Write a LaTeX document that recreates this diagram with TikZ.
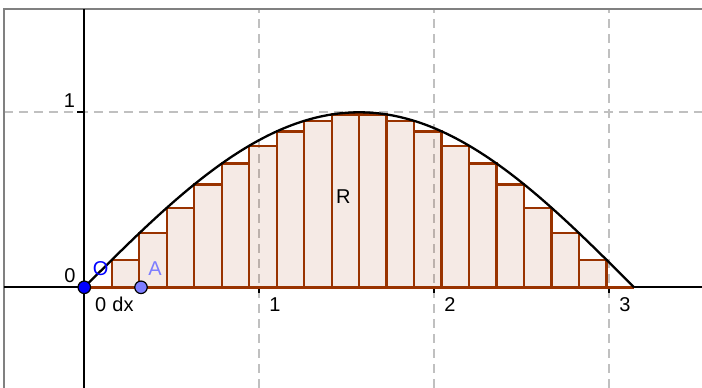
\documentclass[tikz,border=0pt]{standalone}
\usepackage{fontspec}
\setmainfont{Liberation Sans}
\usepackage{tikz}
\usetikzlibrary{positioning}
\definecolor{barbrown}{RGB}{153,51,0}
\definecolor{gridgray}{RGB}{192,192,192}
\definecolor{pointA}{RGB}{125,125,255}
\tikzset{
  lbl/.style={font=\fontsize{20}{24}\selectfont, inner sep=0pt, anchor=base},
  gridline/.style={gridgray, line width=2pt, dash pattern=on 9pt off 6pt},
  sumbar/.style={draw=barbrown, fill=barbrown, fill opacity=0.1, line width=2.4pt},
  pt/.style={circle, draw=black, line width=1.2pt, inner sep=0pt, minimum size=12.5pt},
}

\begin{document}
\begin{tikzpicture}[x=175pt,y=175pt]
\useasboundingbox (-0.4817,-0.5754) rectangle (3.5297,1.6417);
% view frame and grid
\coordinate (frameBL) at (-0.459,-0.5754);
\coordinate (frameTL) at (-0.459,1.59);
\coordinate (frameTR) at (3.5297,1.59);
\foreach \k in {1,2,3}{
  \draw[gridline] (\k,-0.5754) -- (\k,1.59);
}
\draw[gridline] (-0.459,1) -- (3.5297,1);
\draw[gray, line width=2.4pt] (frameBL) -- (frameTL) -- (frameTR);
% axes and ticks
\draw[line width=2.2pt] (-0.459,0) -- (3.5297,0);
\draw[line width=2.2pt] (0,-0.5754) -- (0,1.59);
\foreach \k in {1,2,3}{
  \draw[line width=2.2pt] (\k,0) -- (\k,-0.035);
  \node[lbl] (tick\k) at (\k+0.09,-0.138) {\k};
}
\draw[line width=2.2pt] (0,1) -- (-0.04,1);
\node[lbl] (ytick1) at (-0.085,1.0246) {1};
\node[lbl] (ytick0) at (-0.082,0.0246) {0};
% lower sum, 20 strips of width pi/20
\foreach \i in {0,...,19}{
  \pgfmathsetmacro\h{min(sin(\i*9),sin((\i+1)*9))}
  \draw[sumbar] ({\i*pi/20},0) rectangle ({(\i+1)*pi/20},\h);
}
\draw[barbrown, line width=2.6pt] (0,0) -- (pi,0);
% the curve
\draw[line width=2.3pt, domain=0:pi, samples=120, smooth] plot (\x,{sin(\x r)});
% points
\node[pt, fill=blue] (O) at (0,0) {};
\node[pt, fill=pointA] (A) at (0.324,0) {};
\node[lbl, text=blue] (Olbl) at (0.094,0.070) {O};
\node[lbl, text=pointA] (Albl) at (0.404,0.070) {A};
\node[lbl] (zero) at (0.094,-0.138) {0};
\node[lbl] (dx) at (0.221,-0.138) {dx};
\node[lbl] (R) at (1.48,0.48) {R};
\end{tikzpicture}
\end{document}
